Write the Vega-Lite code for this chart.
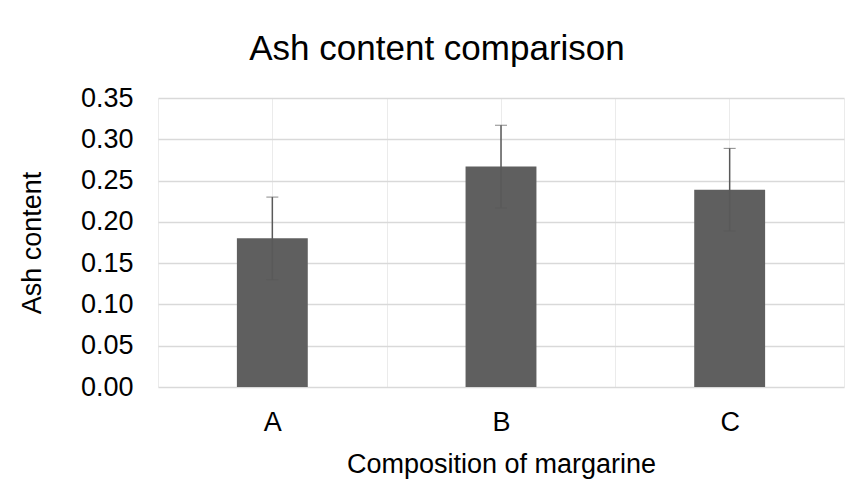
{
  "$schema": "https://vega.github.io/schema/vega-lite/v6.json",
  "autosize": {"type": "none"},
  "width": 686,
  "height": 289,
  "padding": {"left": 158, "top": 98, "right": 16, "bottom": 115},
  "background": "white",
  "title": {
    "text": "Ash content comparison",
    "font": "Liberation Sans",
    "fontSize": 35,
    "fontWeight": "normal",
    "color": "#000000",
    "anchor": "middle",
    "dx": -64,
    "offset": 17
  },
  "data": {
    "values": [
      {"composition": "A", "ash": 0.18, "lo": 0.13, "hi": 0.23},
      {"composition": "B", "ash": 0.267, "lo": 0.217, "hi": 0.317},
      {"composition": "C", "ash": 0.239, "lo": 0.189, "hi": 0.289}
    ]
  },
  "layer": [
    {
      "mark": {"type": "bar", "color": "#5f5f5f", "width": {"band": 0.31}},
      "encoding": {
        "x": {
          "field": "composition",
          "type": "nominal",
          "scale": {"paddingInner": 0, "paddingOuter": 0},
          "axis": {
            "title": "Composition of margarine",
            "labelAngle": 0,
            "ticks": false,
            "domain": false,
            "grid": true,
            "tickBand": "extent",
            "gridColor": "#ebebeb",
            "labelPadding": 22,
            "titlePadding": 16
          }
        },
        "y": {
          "field": "ash",
          "type": "quantitative",
          "title": "Ash content",
          "scale": {"domain": [0, 0.35], "nice": false},
          "axis": {
            "title": "Ash content",
            "values": [0, 0.05, 0.1, 0.15, 0.2, 0.25, 0.3, 0.35],
            "format": ".2f",
            "ticks": false,
            "domain": false,
            "labelPadding": 25,
            "titlePadding": 34,
            "gridColor": "#d9d9d9",
            "gridWidth": 1.5
          }
        }
      }
    },
    {
      "mark": {"type": "errorbar", "ticks": {"size": 12, "color": "#595959", "strokeWidth": 1.5}, "rule": {"color": "#595959", "strokeWidth": 1.5}},
      "encoding": {
        "x": {
          "field": "composition",
          "type": "nominal",
          "axis": {
            "title": null,
            "labels": false,
            "ticks": false,
            "domain": false,
            "grid": true,
            "bandPosition": 0.5,
            "gridColor": "#ebebeb"
          }
        },
        "y": {"field": "hi", "type": "quantitative", "title": "Ash content"},
        "y2": {"field": "lo"}
      }
    }
  ],
  "resolve": {"axis": {"x": "independent"}},
  "config": {
    "view": {"stroke": null},
    "font": "Liberation Sans",
    "axis": {
      "labelFont": "Liberation Sans",
      "titleFont": "Liberation Sans",
      "labelFontSize": 27,
      "titleFontSize": 27,
      "titleFontWeight": "normal",
      "labelColor": "#000000",
      "titleColor": "#000000"
    }
  }
}
